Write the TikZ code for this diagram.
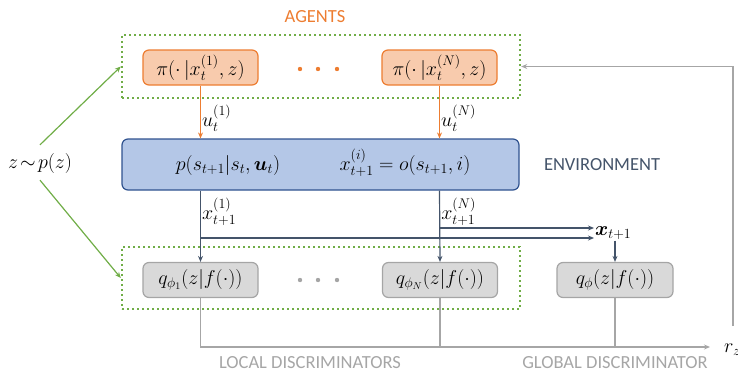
\RequirePackage{fix-cm}
\documentclass[tikz,border=0pt]{standalone}
\usepackage{amsmath}
\usepackage{bm}
\usepackage{fontspec}
\setmainfont{Carlito}
\usetikzlibrary{arrows.meta, positioning}
\definecolor{agentline}{HTML}{ED7D31}
\definecolor{agentfill}{HTML}{F8CBAD}
\definecolor{envline}{HTML}{2F528F}
\definecolor{envfill}{HTML}{B4C7E7}
\definecolor{envtext}{HTML}{44546A}
\definecolor{discline}{HTML}{A5A5A5}
\definecolor{discfill}{HTML}{D9D9D9}
\definecolor{disctext}{HTML}{A6A6A6}
\definecolor{groupline}{HTML}{70AD47}
\tikzset{
  label_font/.style = {font=\fontsize{18.5}{21}\selectfont},
  math_font/.style = {font=\fontsize{20}{23}\selectfont},
  box_size/.style = {minimum width=115, minimum height=35, inner sep=0},
  rounded/.style = {rounded corners=6, line width=1.2pt}
}
\tikzset{
  group_box/.style = {draw=groupline, line width=2.4pt, dash pattern=on 2.4pt off 2.6pt},
  agent/.style = {math_font, box_size, rounded, draw=agentline, fill=agentfill},
  env/.style = {rounded, draw=envline, fill=envfill},
  disc/.style = {math_font, box_size, rounded, draw=discline, fill=discfill},
  title_agents/.style = {label_font, text=agentline},
  title_env/.style = {label_font, text=envtext},
  title_disc/.style = {label_font, text=disctext},
  sym/.style = {math_font, inner sep=1},
  agent_arrow/.style = {draw=agentline, line width=1.2pt, ->},
  obs_arrow/.style = {draw=envtext, line width=1.2pt, ->},
  disc_line/.style = {draw=disctext, line width=1.2pt},
  prior_arrow/.style = {draw=groupline, line width=1.2pt, ->}
}
\begin{document}
\begin{tikzpicture}[x=1pt, y=-1pt, >={Stealth[length=6pt, width=5pt]}]
    \useasboundingbox (0,0) rectangle (738,375);

    % Groups
    \node[group_box, minimum width=398, minimum height=63] at (321,66.5) (agents) {};
    \node[group_box, minimum width=398, minimum height=62] at (321,278) (locals) {};

    % Titles
    \node[title_agents] at (315,17) (agents_t) {AGENTS};
    \node[title_env] at (602,165) (env_t) {ENVIRONMENT};
    \node[title_disc] at (310,363) (local_t) {LOCAL DISCRIMINATORS};
    \node[title_disc] at (615,363) (global_t) {GLOBAL DISCRIMINATOR};

    % Agents
    \node[agent] at (200.5,67.5) (pi_1) {$\pi(\cdot\,|x_t^{(1)},z)$};
    \node[agent] at (439.5,67.5) (pi_n) {$\pi(\cdot\,|x_t^{(N)},z)$};
    \foreach \x in {300,318,337}
        \fill[agentline] (\x,69) circle (2.2);

    % Environment
    \node[env, minimum width=397, minimum height=51] at (320.5,164.5) (env) {};
    \node[sym] at (228,165) (env_trans) {$p(s_{t+1}|s_t,\bm{u}_t)$};
    \node[sym] at (405,163) (env_obs) {$x_{t+1}^{(i)}=o(s_{t+1},i)$};

    % Discriminators
    \node[disc] at (200.5,280) (q_1) {$q_{\phi_1}(z|f(\cdot))$};
    \node[disc] at (440,280) (q_n) {$q_{\phi_N}(z|f(\cdot))$};
    \node[disc, minimum width=116] at (615,280) (q_g) {$q_{\phi}(z|f(\cdot))$};
    \foreach \x in {300,318,337}
        \fill[discline] (\x,280) circle (2.2);

    % Prior, joint observation, reward
    \node[sym] at (40,163) (z) {$z\!\sim\! p(z)$};
    \node[sym, anchor=west] at (594,233) (x_next) {$\bm{x}_{t+1}$};
    \node[sym, anchor=west, inner sep=0] at (724,350) (r_z) {$r_z$};
    \coordinate (r_top) at (733,326);
    \coordinate (r_end) at (710,347);
    \coordinate (n_branch) at (440,228);
    \coordinate (one_branch) at (201,238);

    % Arrows and lines
    \draw[prior_arrow] ([yshift=7pt]z.north) -- (agents.west);
    \draw[prior_arrow] ([yshift=-6pt]z.south) -- (locals.west);

    \draw[agent_arrow] (pi_1.south) -- node[sym, right, pos=0.62] {$u_t^{(1)}$} (pi_1.south |- env.north);
    \draw[agent_arrow] (pi_n.south) -- node[sym, right, pos=0.62] {$u_t^{(N)}$} (pi_n.south |- env.north);

    \draw[obs_arrow] (pi_1.south |- env.south) -- node[sym, right, pos=0.3] {$x_{t+1}^{(1)}$} (q_1.north);
    \draw[obs_arrow] (pi_n.south |- env.south) -- node[sym, right, pos=0.3] {$x_{t+1}^{(N)}$} (q_n.north);
    \draw[obs_arrow] (n_branch) -- (n_branch -| x_next.west);
    \draw[obs_arrow] (one_branch) -- (one_branch -| x_next.west);
    \draw[obs_arrow] (q_g.north |- x_next.south) -- (q_g.north);

    \draw[disc_line, ->] (q_1.south) |- (r_end);
    \draw[disc_line] (q_n.south) -- (q_n.south |- r_end);
    \draw[disc_line] (q_g.south) -- (q_g.south |- r_end);
    \draw[disc_line, ->] (r_top) |- (agents.east);
\end{tikzpicture}
\end{document}
